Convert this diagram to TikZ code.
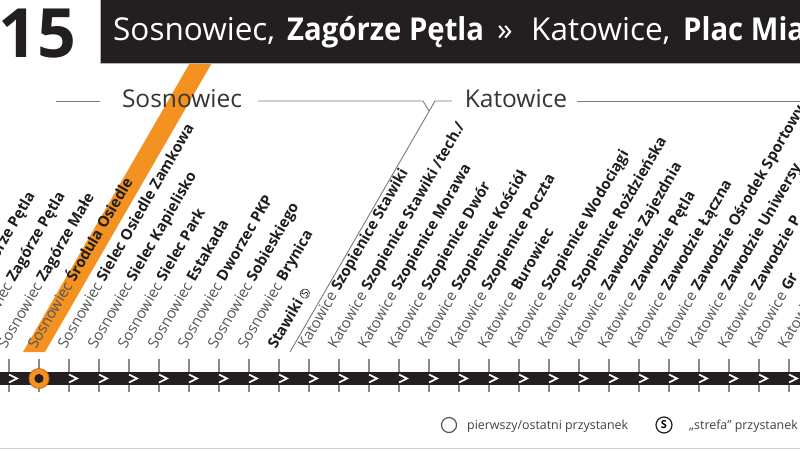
\documentclass[tikz,border=0pt]{standalone}
\usepackage{fontspec}
\setmainfont{Open Sans}
\usepackage{graphicx}
\definecolor{barblack}{HTML}{231F20}
\definecolor{orangeband}{HTML}{F39221}
\definecolor{orangedark}{HTML}{C8691A}
\definecolor{labgray}{HTML}{555555}
\definecolor{labdark}{HTML}{1E1E1E}
\definecolor{ticgray}{HTML}{8A8A8A}
\definecolor{secgray}{HTML}{7A7A7A}
\newcommand\fsz[1]{\fontsize{#1}{#1}\selectfont}
\newcommand\strefasym{\tikz[baseline=(zs.base)]\node[draw=labdark,circle,inner sep=0.4pt,line width=0.6pt](zs){\fsz{9}S};}
\begin{document}
\begin{tikzpicture}[x=1pt,y=-1pt,
  lab/.style={anchor=base west,rotate=60,inner sep=0pt,font=\fsz{15}},
  hdr/.style={anchor=base west,inner sep=0pt,text=white},
  sec/.style={anchor=base,inner sep=0pt,font=\fsz{24.5},text=labdark!90},
  secline/.style={draw=secgray,line width=0.9pt},
  tickline/.style={draw=ticgray,line width=1.3pt},
  chev/.style={draw=white,line width=1.6pt},
  legtext/.style={anchor=base west,inner sep=0pt,font=\fsz{12.4},text=labdark!85}]
\useasboundingbox (0,0) rectangle (800,450);
\clip (0,0) rectangle (800,450);
% orange band
\fill[orangeband] (23,352) -- (45,352) -- ({45+352/tan(60)},0) -- ({23+352/tan(60)},0) -- cycle;
% header
\fill[barblack] (100,0) rectangle (800,63);
\draw[gray!60,line width=0.8pt] (100,0) -- (100,63.4) -- (800,63.4);
\node[anchor=base west,inner sep=0pt,text=barblack,font=\fsz{68}\bfseries] (num) at (-2,57) {15};
\node[hdr,font=\fsz{31.5}] (h1) at (113,40) {Sosnowiec,};
\node[hdr,font=\fsz{31.5}\bfseries] (h2) at (287,40) {\scalebox{0.93}[1]{Zagórze Pętla}};
\node[hdr,font=\fsz{31.5}] (h3) at (497,40) {»};
\node[hdr,font=\fsz{31.5}] (h4) at (531,40) {Katowice,};
\node[hdr,font=\fsz{31.5}\bfseries] (h5) at (683,40) {\scalebox{0.93}[1]{Plac Mia}};
% section headings
\node[sec] (secS) at (182,107) {Sosnowiec};
\node[sec] (secK) at (516,107) {Katowice};
\draw[secline] (56,101) -- (100,101);
\draw[secline] (258,101) -- (423,101) -- (429,111);
\draw[secline] (452,101) -- (435,101) -- (290,352);
\draw[secline] (577,101) -- (800,101);
% stop labels
\foreach \k/\c/\n in {-2/Sosnowiec/{Zagórze Pętla},-1/Sosnowiec/{Zagórze Pętla},0/Sosnowiec/{Zagórze Małe},
  1/Sosnowiec/{Środula Osiedle},2/Sosnowiec/{Sielec Osiedle Zamkowa},3/Sosnowiec/{Sielec Kapielisko},
  4/Sosnowiec/{Sielec Park},5/Sosnowiec/{Estakada},6/Sosnowiec/{Dworzec PKP},7/Sosnowiec/{Sobieskiego},
  8/Sosnowiec/{Brynica},10/Katowice/{Szopienice Stawiki},11/Katowice/{Szopienice Stawiki /tech./},
  12/Katowice/{Szopienice Morawa},13/Katowice/{Szopienice Dwór},14/Katowice/{Szopienice Kościół},
  15/Katowice/{Szopienice Poczta},16/Katowice/{Burowiec},17/Katowice/{Szopienice Wodociągi},
  18/Katowice/{Szopienice Rożdzieńska},19/Katowice/{Zawodzie Zajezdnia},20/Katowice/{Zawodzie Pętla},
  21/Katowice/{Zawodzie Łączna},22/Katowice/{Zawodzie Ośrodek Sportowy},23/Katowice/{Zawodzie Uniwersy},
  24/Katowice/{Zawodzie P},25/Katowice/{Gr},26/Katowice/{}}
  \node[lab] (lab\k) at ({6+30*\k},350) {\textcolor{labgray}{\c}\hspace{0.28em}\textcolor{labdark}{\bfseries \n}};
\node[lab] (lab9) at (276,350) {\textcolor{labdark}{\bfseries Stawiki}\hspace{0.2em}\strefasym};
% line
\foreach \k in {0,...,26} \coordinate (s\k) at ({9+30*\k},378.5);
\foreach \k in {0,...,26} \draw[tickline] ([yshift=19.5pt]s\k) -- ([yshift=-13.5pt]s\k);
\fill[barblack] (0,372) rectangle (800,385);
\foreach \k in {0,...,26} \draw[chev] ([yshift=4pt]s\k) -- ([xshift=8pt]s\k) -- ([yshift=-4pt]s\k);
\node[circle,fill=orangeband,draw=orangedark,line width=0.8pt,minimum size=20pt,inner sep=0pt] (first) at (s1) {};
\fill[barblack] (first.center) circle (4.6);
% legend
\node[circle,draw=labgray,line width=1.2pt,minimum size=15pt,inner sep=0pt] (legA) at (449,425) {};
\node[legtext] (legAt) at (467,429.5) {pierwszy/ostatni przystanek};
\node[circle,draw=labdark,line width=1.2pt,minimum size=16pt,inner sep=0pt,font=\fsz{11}\bfseries] (legB) at (664,425) {S};
\node[legtext] (legBt) at (689,429.5) {„strefa” przystanek};
\draw[gray!35,line width=1pt] (0,448.5) -- (800,448.5);
\end{tikzpicture}
\end{document}
